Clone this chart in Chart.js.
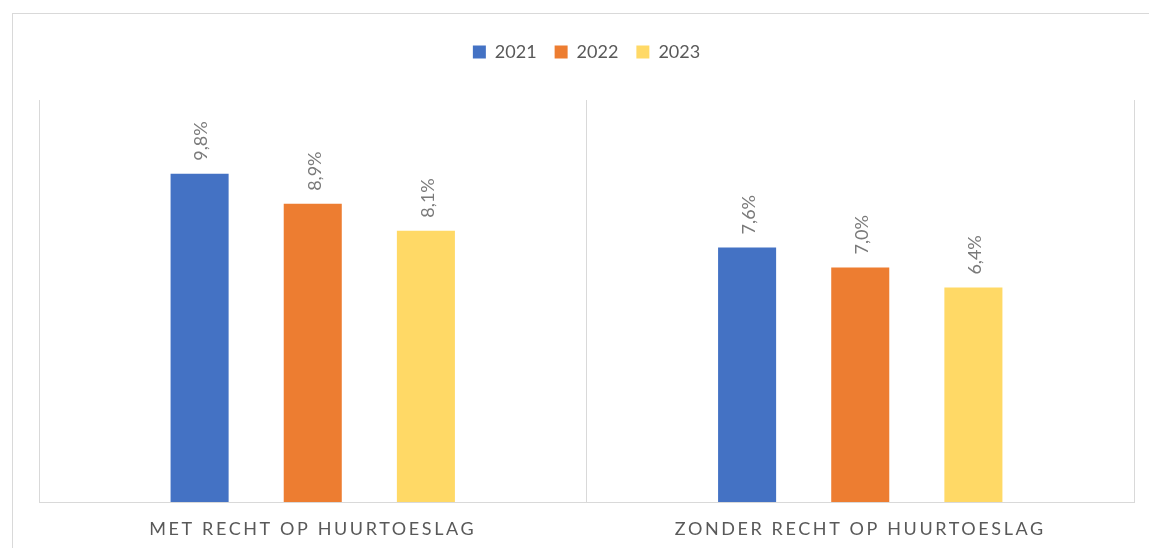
<!DOCTYPE html>
<html>
<head>
<meta charset="utf-8">
<script src="https://cdn.jsdelivr.net/npm/chart.js@4"></script>
<style>
  html, body { margin: 0; padding: 0; background: #fff; width: 1149px; height: 548px; overflow: hidden; }
  #frame { position: absolute; left: 12px; top: 13px; width: 1200px; height: 600px; border-top: 1px solid #d9d9d9; border-left: 1px solid #d9d9d9; }
  canvas { position: absolute; left: 0; top: 0; }
</style>
</head>
<body>
<div id="frame"></div>
<canvas id="c" width="1149" height="548"></canvas>
<script>
const categories = ['MET RECHT OP HUURTOESLAG', 'ZONDER RECHT OP HUURTOESLAG'];
const seriesNames = ['2021', '2022', '2023'];
const values2021 = [9.8, 7.6];
const values2022 = [8.9, 7.0];
const values2023 = [8.1, 6.4];
const seriesColors = ['#4472C4', '#ED7D31', '#FFD966'];

const FONT = 'Lato, "Open Sans", sans-serif';

const fixLayout = {
  id: 'fixLayout',
  afterInit(chart) {
    const lg = chart.legend;
    if (lg && !lg._patched) {
      const f = lg.fit;
      lg.fit = function () { f.call(this); this.height = 75; };
      lg._patched = true;
    }
  },
  beforeDraw(chart) {
    const xs = chart.scales.x;
    if (xs && !xs._patched) {
      const d = xs.drawLabels;
      xs.drawLabels = function (area) {
        const ctx = this.ctx;
        ctx.save();
        ctx.letterSpacing = '2.6px';
        d.call(this, area);
        ctx.restore();
      };
      xs._patched = true;
    }
  }
};

const barLabels = {
  id: 'barLabels',
  afterDatasetsDraw(chart) {
    const ctx = chart.ctx;
    chart.data.datasets.forEach((ds, i) => {
      const meta = chart.getDatasetMeta(i);
      meta.data.forEach((bar, j) => {
        const txt = ds.data[j].toFixed(1).replace('.', ',') + '%';
        ctx.save();
        ctx.translate(bar.x + 2, bar.y - 13);
        ctx.rotate(-Math.PI / 2);
        ctx.font = '18px ' + FONT;
        ctx.fillStyle = '#7a7a7a';
        ctx.textAlign = 'left';
        ctx.textBaseline = 'middle';
        ctx.fillText(txt, 0, 0);
        ctx.restore();
      });
    });
  }
};

new Chart(document.getElementById('c'), {
  type: 'bar',
  data: {
    labels: categories,
    datasets: [
      { label: seriesNames[0], data: values2021, backgroundColor: seriesColors[0] },
      { label: seriesNames[1], data: values2022, backgroundColor: seriesColors[1] },
      { label: seriesNames[2], data: values2023, backgroundColor: seriesColors[2] }
    ]
  },
  options: {
    responsive: false,
    animation: false,
    devicePixelRatio: 1,
    categoryPercentage: 0.62,
    barPercentage: 0.513,
    layout: { padding: { top: 25, left: 39, right: 15, bottom: 0 } },
    plugins: {
      legend: {
        position: 'top',
        labels: {
          boxWidth: 13, boxHeight: 13, padding: 18,
          color: '#595959',
          font: { family: FONT, size: 18 }
        }
      },
      tooltip: { enabled: false }
    },
    scales: {
      x: {
        afterFit(s) { s.height = 46; },
        grid: { offset: true, color: '#d9d9d9', lineWidth: 1, drawTicks: false },
        border: { color: '#d9d9d9', width: 1 },
        ticks: { color: '#595959', padding: 16, font: { family: FONT, size: 18 } }
      },
      y: {
        display: false,
        min: 0, max: 12
      }
    }
  },
  plugins: [fixLayout, barLabels]
});
</script>
</body>
</html>
